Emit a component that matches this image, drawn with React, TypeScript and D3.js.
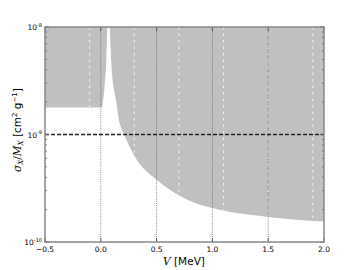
import React from "react";
import * as d3 from "d3";

// excluded region, low-V block (V in MeV, sigma/M in cm^2/g)
const leftV = [-0.5, 0.0, 0.013, 0.03, 0.047, 0.058];
const leftSigma = [1.78e-9, 1.78e-9, 1.8e-9, 2.5e-9, 4.2e-9, 1e-8];

// excluded region, right of the resonance
const rightV = [0.08, 0.098, 0.136, 0.163, 0.208, 0.324, 0.504, 0.78, 1.0, 1.5, 2.0];
const rightSigma = [1e-8, 3.98e-9, 2.09e-9, 1.36e-9, 1.01e-9, 5.8e-10, 3.78e-10, 2.46e-10, 2.07e-10, 1.71e-10, 1.55e-10];

const refLine = 1e-9;
const xTicks = [-0.5, 0.0, 0.5, 1.0, 1.5, 2.0];
const xGrid = [0.0, 0.5, 1.0, 1.5];
const seams = [-0.1, 0.3, 0.7, 1.1, 1.5, 1.9];
const yTicks = [1e-10, 1e-9, 1e-8];
const yExps = ["-10", "-9", "-8"];

const W = 360, H = 270;
const m = { l: 45, r: 324, t: 27, b: 242 };

export default function App() {
  const x = d3.scaleLinear().domain([-0.5, 2.0]).range([m.l, m.r]);
  const y = d3.scaleLog().domain([1e-10, 1e-8]).range([m.b, m.t]);

  const leftPts: [number, number][] = leftV.map((v, i) => [x(v), y(leftSigma[i])]);
  const leftPath = d3.line()([[x(-0.5), y(1e-8)], ...leftPts, [x(0.058), y(1e-8)]]) + "Z";

  const rightPts: [number, number][] = rightV.map((v, i) => [x(v), y(rightSigma[i])]);
  const curve = d3.line().curve(d3.curveMonotoneX)(rightPts) as string;
  const rightPath = curve + `L${x(2.0)},${y(1e-8)}L${x(0.08)},${y(1e-8)}Z`;

  const minor: number[] = [];
  [1e-10, 1e-9].forEach((b) => {
    for (let k = 2; k <= 9; k++) minor.push(b * k);
  });

  const font = "DejaVu Sans, sans-serif";
  const serif = "DejaVu Serif, serif";

  return (
    <svg width={W} height={H} style={{ position: "absolute", left: 0, top: 0 }} fontFamily={font}>
      <defs>
        <clipPath id="grayClip">
          <path d={leftPath} />
          <path d={rightPath} />
        </clipPath>
      </defs>
      <rect width={W} height={H} fill="#fff" />
      <path d={leftPath} fill="#c0c0c0" />
      <path d={rightPath} fill="#c0c0c0" />
      <g clipPath="url(#grayClip)">
        {seams.map((v) => (
          <line key={v} x1={x(v)} x2={x(v)} y1={m.t} y2={m.b} stroke="#fff" strokeWidth={0.8} strokeDasharray="2.5,4" />
        ))}
      </g>
      {xGrid.map((v) => (
        <line key={v} x1={x(v)} x2={x(v)} y1={m.t} y2={m.b} stroke="#555" strokeWidth={0.7} strokeDasharray="1,1.2" />
      ))}
      <line x1={m.l} x2={m.r} y1={y(refLine)} y2={y(refLine)} stroke="#222" strokeWidth={1.3} strokeDasharray="4,2" />
      {yTicks.map((t) => (
        <g key={t}>
          <line x1={m.l} x2={m.l + 4} y1={y(t)} y2={y(t)} stroke="#555" />
          <line x1={m.r} x2={m.r - 4} y1={y(t)} y2={y(t)} stroke="#555" />
        </g>
      ))}
      {minor.map((t) => (
        <g key={t}>
          <line x1={m.l} x2={m.l + 2} y1={y(t)} y2={y(t)} stroke="#555" strokeWidth={0.8} />
          <line x1={m.r} x2={m.r - 2} y1={y(t)} y2={y(t)} stroke="#555" strokeWidth={0.8} />
        </g>
      ))}
      {xTicks.map((t) => (
        <g key={t}>
          <line x1={x(t)} x2={x(t)} y1={m.b} y2={m.b - 4} stroke="#555" />
          <line x1={x(t)} x2={x(t)} y1={m.t} y2={m.t + 4} stroke="#555" />
        </g>
      ))}
      <rect x={m.l} y={m.t} width={m.r - m.l} height={m.b - m.t} fill="none" stroke="#888" strokeWidth={1.5} />
      {xTicks.map((t) => (
        <text key={t} x={x(t)} y={m.b + 10} fontSize={7.5} textAnchor="middle" fill="#000">
          {t < 0 ? "\u2212" + d3.format(".1f")(-t) : d3.format(".1f")(t)}
        </text>
      ))}
      {yTicks.map((t, i) => (
        <text key={t} x={m.l - 3} y={y(t) + 3} fontSize={7.5} textAnchor="end" fill="#000">
          10<tspan dy={-3.5} fontSize={5}>{yExps[i]}</tspan>
        </text>
      ))}
      <text x={184} y={265} fontSize={10.5} textAnchor="middle" fill="#000">
        <tspan fontStyle="italic" fontFamily={serif}>V</tspan>
        <tspan> [MeV]</tspan>
      </text>
      <text transform={`translate(21,130) rotate(-90)`} fontSize={10.5} textAnchor="middle" fill="#000">
        <tspan fontStyle="italic" fontFamily={serif}>σ</tspan>
        <tspan fontStyle="italic" fontFamily={serif} fontSize={7} dy={2}>X</tspan>
        <tspan fontFamily={serif} dy={-2}>/</tspan>
        <tspan fontStyle="italic" fontFamily={serif}>M</tspan>
        <tspan fontStyle="italic" fontFamily={serif} fontSize={7} dy={2}>X</tspan>
        <tspan dy={-2}> [cm</tspan>
        <tspan fontSize={7} dy={-4}>2</tspan>
        <tspan dy={4}> g</tspan>
        <tspan fontSize={7} dy={-4}>−1</tspan>
        <tspan dy={4}>]</tspan>
      </text>
    </svg>
  );
}
